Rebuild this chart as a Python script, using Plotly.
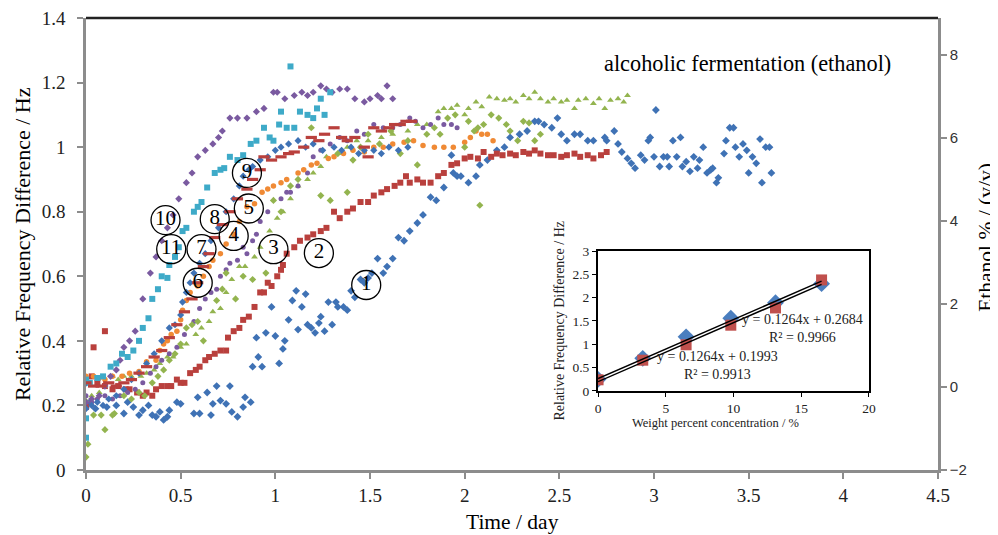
import plotly.graph_objects as go

# ---------------- data ----------------
s1 = [(0,0.27),(0,0.195),(0.02,0.21),(0.05,0.19),(0.11,0.195),(0.16,0.20),(0.20,0.175),(0.22,0.21),(0.25,0.195),(0.28,0.17),
      (0.30,0.185),(0.33,0.20),(0.35,0.17),(0.37,0.165),(0.39,0.18),(0.41,0.155),(0.43,0.165),(0.44,0.185),(0.48,0.21),
      (0.50,0.205),(0.57,0.175),(0.59,0.225),(0.60,0.175),(0.64,0.24),(0.66,0.17),(0.67,0.205),(0.69,0.26),(0.71,0.215),
      (0.74,0.205),(0.76,0.26),(0.77,0.18),(0.80,0.165),(0.83,0.195),(0.84,0.225),(0.87,0.21),(0.88,0.32),(0.90,0.41),
      (0.91,0.35),(0.93,0.32),(0.95,0.425),(0.98,0.505),(1.00,0.415),(1.02,0.33),(1.04,0.375),(1.05,0.40),(1.07,0.465),
      (1.09,0.525),(1.11,0.555),(1.12,0.435),(1.14,0.505),(1.16,0.545),(1.17,0.45),(1.19,0.44),(1.21,0.425),(1.23,0.455),
      (1.24,0.475),(1.26,0.43),(1.28,0.52),(1.30,0.45),(1.32,0.52),(1.33,0.505),(1.36,0.505),(1.38,0.495),(1.40,0.555),
      (1.42,0.535),(1.45,0.59),(1.47,0.58),(1.49,0.595),(1.51,0.61),(1.54,0.655),(1.57,0.61),(1.59,0.63),(1.62,0.655),
      (1.65,0.72),(1.68,0.71),(1.71,0.74),(1.75,0.765),(1.78,0.79),(1.82,0.845),(1.85,0.835),(1.89,0.875),(1.93,0.975),
      (1.94,0.92),(1.96,0.91),(1.98,0.91),(2.02,0.89),(2.06,0.91),(2.08,0.945),(2.12,0.96),(2.17,0.99),(2.21,1.0),
      (2.24,1.03),(2.29,1.04),(2.33,1.05),(2.37,1.08),(2.39,1.08),(2.42,1.07),(2.46,1.06),(2.49,1.09),(2.51,1.04),
      (2.54,1.02),(2.58,1.04),(2.61,1.04),(2.65,1.02),(2.68,1.02),(2.74,1.03),(2.75,1.02),(2.79,1.05),(2.81,1.01),
      (2.83,0.985),(2.86,0.965),(2.88,0.95),(2.90,0.935),(2.93,0.975),(2.95,0.96),(2.97,1.02),(2.98,1.03),(3.00,0.97),
      (3.01,1.115),(3.03,0.94),(3.05,0.97),(3.07,0.97),(3.08,0.94),(3.10,1.02),(3.12,0.97),(3.14,1.03),(3.15,0.94),
      (3.17,0.955),(3.19,0.925),(3.21,0.97),(3.23,0.935),(3.24,0.96),(3.26,1.0),(3.28,0.92),(3.30,0.93),(3.31,0.935),
      (3.33,0.89),(3.34,0.905),(3.37,0.98),(3.38,1.02),(3.40,1.06),(3.42,1.06),(3.43,1.0),(3.45,0.97),(3.47,1.01),
      (3.49,0.99),(3.50,0.92),(3.52,0.97),(3.54,0.95),(3.56,1.025),(3.57,0.89),(3.59,1.0),(3.61,1.0),(3.62,0.92)]

s2 = [(0.0,0.195),(0.03,0.29),(0.04,0.38),(0.06,0.27),(0.10,0.26),(0.10,0.43),(0.14,0.25),(0.17,0.26),(0.21,0.25),
      (0.23,0.25),(0.27,0.24),(0.30,0.23),(0.32,0.24),(0.35,0.23),(0.37,0.25),(0.40,0.26),(0.43,0.26),(0.45,0.26),
      (0.48,0.28),(0.50,0.27),(0.52,0.27),(0.55,0.30),(0.58,0.31),(0.60,0.32),(0.63,0.34),(0.65,0.35),(0.68,0.36),
      (0.71,0.37),(0.74,0.37),(0.75,0.41),(0.78,0.43),(0.81,0.44),(0.83,0.465),(0.86,0.475),(0.89,0.505),(0.92,0.55),
      (0.94,0.55),(0.96,0.58),(0.98,0.57),(1.01,0.60),(1.03,0.62),(1.04,0.635),(1.06,0.67),(1.10,0.69),(1.13,0.71),
      (1.17,0.72),(1.20,0.73),(1.24,0.74),(1.27,0.75),(1.31,0.80),(1.34,0.78),(1.38,0.80),(1.41,0.81),(1.45,0.83),
      (1.49,0.83),(1.52,0.85),(1.56,0.86),(1.59,0.87),(1.63,0.88),(1.66,0.89),(1.69,0.91),(1.71,0.89),(1.75,0.90),
      (1.78,0.89),(1.82,0.89),(1.86,0.91),(1.89,0.92),(1.93,0.945),(1.96,0.95),(2.00,0.965),(2.03,0.97),(2.07,0.965),
      (2.10,0.985),(2.14,0.97),(2.17,0.98),(2.20,0.975),(2.24,0.98),(2.27,0.975),(2.31,0.985),(2.34,0.98),(2.37,0.99),
      (2.40,0.98),(2.44,0.975),(2.47,0.975),(2.51,0.97),(2.54,0.975),(2.58,0.98),(2.61,0.97),(2.65,0.975),(2.68,0.965),
      (2.72,0.975),(2.75,0.985)]

s3 = [(0.0,0.215),(0.03,0.23),(0.07,0.24),(0.10,0.26),(0.14,0.29),(0.17,0.28),(0.20,0.29),(0.24,0.29),(0.29,0.29),
      (0.32,0.30),(0.36,0.31),(0.39,0.33),(0.43,0.35),(0.46,0.35),(0.50,0.38),(0.53,0.39),(0.58,0.42),(0.61,0.44),
      (0.65,0.46),(0.67,0.49),(0.71,0.50),(0.74,0.55),(0.77,0.59),(0.81,0.63),(0.84,0.63),(0.89,0.66),(0.92,0.69),
      (0.97,0.74),(1.01,0.78),(1.04,0.80),(1.08,0.84),(1.12,0.88),(1.17,0.90),(1.20,0.92),(1.24,0.94),(1.27,0.97),
      (1.33,0.98),(1.38,1.0),(1.43,1.02),(1.49,1.02),(1.56,1.03),(1.62,1.04),(1.70,1.05),(1.75,1.07),(1.80,1.07),
      (1.86,1.11),(1.89,1.12),(1.93,1.12),(1.96,1.13),(2.00,1.10),(2.02,1.12),(2.06,1.14),(2.09,1.125),(2.13,1.155),
      (2.17,1.15),(2.21,1.145),(2.24,1.15),(2.27,1.14),(2.31,1.16),(2.34,1.15),(2.37,1.17),(2.40,1.15),(2.44,1.14),
      (2.47,1.15),(2.51,1.14),(2.54,1.145),(2.58,1.12),(2.60,1.145),(2.64,1.15),(2.68,1.135),(2.71,1.15),(2.74,1.12),
      (2.77,1.145),(2.81,1.15),(2.84,1.14),(2.86,1.16)]

s4 = [(0.0,0.23),(0.03,0.21),(0.06,0.22),(0.10,0.23),(0.14,0.22),(0.18,0.23),(0.22,0.24),(0.26,0.25),(0.30,0.27),
      (0.34,0.30),(0.37,0.32),(0.40,0.34),(0.44,0.36),(0.48,0.38),(0.52,0.42),(0.57,0.46),(0.60,0.50),(0.63,0.53),
      (0.66,0.55),(0.69,0.56),(0.71,0.60),(0.74,0.62),(0.76,0.64),(0.80,0.65),(0.83,0.69),(0.85,0.67),(0.88,0.71),
      (0.90,0.73),(0.92,0.77),(0.96,0.80),(1.03,0.84),(1.06,0.86),(1.08,0.86),(1.12,0.88),(1.17,0.92),(1.20,0.97),
      (1.24,0.99),(1.29,1.01),(1.34,1.03),(1.38,1.02),(1.43,1.05),(1.47,1.04),(1.52,1.07),(1.57,1.06),(1.62,1.06),
      (1.66,1.07),(1.71,1.09),(1.74,1.08),(1.78,1.06),(1.82,1.07),(1.86,1.09),(1.89,1.07),(1.93,1.07),(1.96,1.06)]

s6 = [(0.0,0.29),(0.02,0.27),(0.04,0.29),(0.07,0.285),(0.10,0.28),(0.14,0.29),(0.19,0.29),(0.23,0.30),(0.28,0.305),
      (0.32,0.335),(0.37,0.34),(0.39,0.37),(0.41,0.39),(0.43,0.40),(0.45,0.42),(0.48,0.43),(0.50,0.465),(0.51,0.495),
      (0.53,0.525),(0.55,0.55),(0.59,0.57),(0.62,0.60),(0.65,0.63),(0.67,0.65),(0.71,0.67),(0.74,0.70),(0.78,0.73),
      (0.81,0.77),(0.85,0.815),(0.89,0.825),(0.93,0.86),(0.96,0.87),(0.99,0.88),(1.03,0.89),(1.06,0.90),(1.12,0.92),
      (1.15,0.93),(1.19,0.945),(1.22,0.95),(1.28,0.965),(1.31,0.97),(1.36,0.98),(1.41,0.99),(1.47,0.985),(1.52,1.0),
      (1.57,1.0),(1.62,1.01),(1.68,1.015),(1.73,1.02),(1.78,1.005),(1.84,1.0),(1.89,1.0),(1.94,1.0),(2.00,1.015),
      (2.03,1.03),(2.06,1.05),(2.09,1.04),(2.12,1.04),(2.15,1.02)]

s7 = [(0.0,0.19),(0.03,0.20),(0.06,0.21),(0.09,0.20),(0.12,0.22),(0.16,0.23),(0.20,0.25),(0.24,0.28),(0.28,0.30),
      (0.32,0.33),(0.36,0.36),(0.40,0.40),(0.44,0.44),(0.47,0.45),(0.50,0.48),(0.51,0.52),(0.53,0.55),(0.55,0.58),
      (0.57,0.61),(0.60,0.64),(0.63,0.67),(0.66,0.71),(0.70,0.75),(0.74,0.80),(0.78,0.84),(0.81,0.88),(0.83,0.91),
      (0.86,0.93),(0.88,0.94),(0.92,0.96),(0.96,0.97),(1.00,0.99),(1.03,1.00),(1.07,1.01),(1.12,1.02),(1.16,1.00),
      (1.20,1.01),(1.25,0.99),(1.31,1.00),(1.35,0.99),(1.40,1.00),(1.44,0.98),(1.47,0.99),(1.52,0.99),(1.56,0.98),
      (1.60,1.00),(1.65,0.99),(1.70,1.00)]

s8 = [(0.0,0.27),(0.04,0.26),(0.08,0.26),(0.12,0.27),(0.16,0.26),(0.20,0.27),(0.24,0.28),(0.28,0.30),(0.32,0.32),
      (0.36,0.35),(0.40,0.37),(0.44,0.41),(0.48,0.45),(0.52,0.49),(0.56,0.53),(0.59,0.58),(0.62,0.63),(0.65,0.67),
      (0.68,0.72),(0.72,0.76),(0.76,0.80),(0.80,0.84),(0.85,0.87),(0.88,0.90),(0.92,0.93),(0.94,0.97),(0.98,0.96),
      (1.03,0.97),(1.07,0.98),(1.10,0.985),(1.15,1.0),(1.19,1.03),(1.23,1.02),(1.26,1.04),(1.31,1.06),(1.35,1.03),
      (1.38,1.02),(1.42,1.03),(1.47,1.0),(1.49,0.97),(1.52,1.06),(1.56,1.05),(1.60,1.06),(1.63,1.07),(1.66,1.07),
      (1.69,1.08),(1.72,1.08)]

s9 = [(0.0,0.04),(0.01,0.08),(0.04,0.17),(0.08,0.17),(0.10,0.125),(0.14,0.17),(0.15,0.175),(0.20,0.23),(0.24,0.22),
      (0.28,0.24),(0.31,0.23),(0.35,0.27),(0.38,0.29),(0.41,0.31),(0.44,0.34),(0.47,0.36),(0.50,0.39),(0.53,0.44),
      (0.56,0.45),(0.59,0.46),(0.62,0.40),(0.69,0.525),(0.72,0.56),(0.74,0.61),(0.79,0.53),(0.83,0.60),(0.88,0.59),
      (0.95,0.61),(0.99,0.835),(1.03,0.80),(1.08,0.88),(1.12,0.90),(1.19,1.06),(1.24,0.85),(1.29,0.835),(1.33,0.98),
      (1.38,0.86),(1.41,0.96),(1.45,1.0),(1.49,1.04),(1.55,1.01),(1.61,1.05),(1.66,0.98),(1.70,1.02),(1.75,0.945),
      (1.80,1.04),(1.84,1.06),(1.87,1.04),(1.91,1.09),(1.95,1.10),(2.00,1.0),(2.02,1.08),(2.05,1.05),(2.07,1.06),
      (2.08,0.82),(2.10,1.07),(2.14,1.10),(2.18,1.09),(2.22,1.07),(2.24,1.05),(2.28,1.02),(2.31,1.08),(2.34,1.075),
      (2.37,1.02),(2.40,1.04)]

s10 = [(0.0,0.21),(0.03,0.22),(0.07,0.23),(0.10,0.26),(0.13,0.29),(0.16,0.31),(0.18,0.34),(0.20,0.38),(0.23,0.40),
       (0.26,0.43),(0.30,0.53),(0.34,0.61),(0.37,0.66),(0.40,0.71),(0.43,0.75),(0.46,0.79),(0.49,0.84),(0.53,0.89),
       (0.56,0.92),(0.59,0.97),(0.63,0.99),(0.67,1.01),(0.70,1.03),(0.72,1.05),(0.76,1.09),(0.80,1.09),(0.85,1.09),
       (0.90,1.11),(0.94,1.12),(0.99,1.17),(1.01,1.17),(1.05,1.15),(1.10,1.16),(1.14,1.17),(1.17,1.16),(1.20,1.17),
       (1.24,1.19),(1.27,1.18),(1.30,1.17),(1.34,1.18),(1.38,1.18),(1.42,1.15),(1.47,1.14),(1.50,1.15),(1.54,1.16),
       (1.56,1.15),(1.59,1.19),(1.62,1.15)]

s11 = [(0.0,0.10),(0.0,0.16),(0.0,0.28),(0.02,0.27),(0.06,0.285),(0.09,0.29),(0.13,0.32),(0.16,0.33),(0.19,0.36),
       (0.22,0.35),(0.25,0.37),(0.28,0.40),(0.30,0.44),(0.33,0.47),(0.35,0.53),(0.38,0.56),(0.40,0.60),(0.43,0.595),
       (0.44,0.635),(0.47,0.66),(0.49,0.69),(0.51,0.74),(0.53,0.75),(0.57,0.80),(0.59,0.815),(0.61,0.83),(0.64,0.875),
       (0.68,0.92),(0.71,0.93),(0.73,0.935),(0.76,0.97),(0.80,0.96),(0.83,0.975),(0.87,1.01),(0.90,1.02),(0.94,1.06),
       (0.97,1.03),(0.99,1.02),(1.02,1.07),(1.03,1.11),(1.06,1.06),(1.08,1.25),(1.10,1.06),(1.13,1.11),(1.17,1.10),
       (1.20,1.09),(1.22,1.12),(1.24,1.15),(1.26,1.10),(1.29,1.17)]

label_text = ["1", "2", "3", "4", "5", "6", "7", "8", "9", "10", "11"]
label_x = [1.48, 1.23, 0.99, 0.78, 0.86, 0.59, 0.61, 0.68, 0.85, 0.42, 0.45]
label_y = [0.573, 0.672, 0.684, 0.725, 0.81, 0.58, 0.684, 0.777, 0.92, 0.774, 0.684]

x_ticks = [0, 0.5, 1, 1.5, 2, 2.5, 3, 3.5, 4, 4.5]
x_ticktext = ["0", "0.5", "1", "1.5", "2", "2.5", "3", "3.5", "4", "4.5"]
y2_ticks = [-2, 0, 2, 4, 6, 8]

# inset calibration
inset_conc = [0, 3.3, 6.5, 9.8, 13.1, 16.5]
inset_blue = [0.25, 0.70, 1.16, 1.56, 1.89, 2.30]
inset_red = [0.24, 0.66, 0.99, 1.41, 1.78, 2.38]
fit_slope = [0.1264, 0.1264]
fit_intercept = [0.2684, 0.1993]
fit_range = [0, 16.5]

# ---------------- styles ----------------
SERIF = "Liberation Serif, Times New Roman, serif"
SANS = "Liberation Sans, Arial, sans-serif"
BLUE = "#3f72b5"
RED = "#b9403d"
GREEN = "#93b44f"
PURPLE = "#7a5aa0"
CYAN = "#3eaac8"
ORANGE = "#f08a35"

series = [
    (s1, BLUE, "diamond", 6, 0),
    (s2, RED, "square", 6, 0),
    (s3, GREEN, "triangle-up", 6, 0),
    (s4, PURPLE, "circle", 5, 0),
    (s6, ORANGE, "circle", 5.5, 0),
    (s9, GREEN, "diamond", 5.5, 0),
    (s10, PURPLE, "diamond", 5.5, 0),
    (s11, CYAN, "square", 6, 0),
    (s7, BLUE, "diamond", 5.5, 0),
    (s8, RED, "line-ew", 8, 3.2),
]

fig = go.Figure()
for pts, col, sym, size, lw in series:
    xs = [p[0] for p in pts]
    ys = [p[1] for p in pts]
    if sym == "line-ew":
        marker = dict(symbol=sym, size=size, color=col, line=dict(color=col, width=lw))
    else:
        marker = dict(symbol=sym, size=size, color=col, line=dict(width=0))
    fig.add_trace(go.Scatter(x=xs, y=ys, mode="markers", marker=marker,
                             showlegend=False, hoverinfo="skip", xaxis="x", yaxis="y"))

# circled sample numbers
fig.add_trace(go.Scatter(x=label_x, y=label_y, mode="markers+text", text=label_text,
                         textposition="middle center",
                         textfont=dict(family=SERIF, size=21, color="black"),
                         marker=dict(symbol="circle-open", size=29, color="black",
                                     line=dict(width=1.3)),
                         showlegend=False, hoverinfo="skip", xaxis="x", yaxis="y"))

# right axis (ethanol %) - empty trace to create the axis
fig.add_trace(go.Scatter(x=[None], y=[None], mode="markers", showlegend=False,
                         hoverinfo="skip", xaxis="x", yaxis="y2"))

# inset: calibration
fig.add_trace(go.Scatter(x=inset_conc, y=inset_blue, mode="markers",
                         marker=dict(symbol="diamond", size=13, color="#4a7ebf"),
                         showlegend=False, hoverinfo="skip", xaxis="x3", yaxis="y3"))
fig.add_trace(go.Scatter(x=inset_conc, y=inset_red, mode="markers",
                         marker=dict(symbol="square", size=11, color="#c0504d"),
                         showlegend=False, hoverinfo="skip", xaxis="x3", yaxis="y3"))
for m, b in zip(fit_slope, fit_intercept):
    fig.add_trace(go.Scatter(x=fit_range, y=[m * fit_range[0] + b, m * fit_range[1] + b],
                             mode="lines", line=dict(color="black", width=1.5),
                             showlegend=False, hoverinfo="skip", xaxis="x3", yaxis="y3"))

AX_GRAY = "#8c8c8c"
# the page body adds an 8px offset, so the figure is 8px smaller and margins shifted
fig.update_layout(
    width=990, height=527,
    margin=dict(l=78, r=60, t=10, b=65, autoexpand=False),
    paper_bgcolor="white", plot_bgcolor="white",
    xaxis=dict(domain=[0, 1], range=[0, 4.5], tickvals=x_ticks, ticktext=x_ticktext,
               showline=True, linecolor=AX_GRAY, linewidth=2.5, ticks="outside",
               ticklen=6, tickcolor=AX_GRAY, tickwidth=1.5, showgrid=False, zeroline=False,
               ticklabeloverflow="allow",
               tickfont=dict(family=SERIF, size=19, color="#222"), anchor="y"),
    yaxis=dict(domain=[0, 1], range=[0, 1.4], dtick=0.2, showline=True, linecolor=AX_GRAY,
               linewidth=2.5, ticks="outside", ticklen=6, tickcolor=AX_GRAY, tickwidth=1.5,
               showgrid=False, zeroline=False, ticklabelstandoff=8, ticklabeloverflow="allow",
               tickfont=dict(family=SERIF, size=19, color="#222"), anchor="x"),
    yaxis2=dict(overlaying="y", side="right", range=[-2, 8.89], tickvals=y2_ticks,
                showline=True, linecolor=AX_GRAY, linewidth=2.5, ticks="outside", ticklen=6,
                tickcolor=AX_GRAY, tickwidth=1.5, showgrid=False, zeroline=False,
                ticklabeloverflow="allow",
                tickfont=dict(family=SANS, size=15, color="#333"), anchor="x"),
    xaxis3=dict(domain=[0.601, 0.919], range=[0, 20], dtick=5, anchor="y3",
                showline=True, mirror=True, linecolor="black", linewidth=2,
                ticks="outside", ticklen=4, tickcolor="black", showgrid=False, zeroline=False,
                tickfont=dict(family=SERIF, size=13.5, color="#222")),
    yaxis3=dict(domain=[0.1748, 0.4845], range=[0, 3], dtick=0.5, anchor="x3",
                showline=True, mirror=True, linecolor="black", linewidth=2,
                ticks="outside", ticklen=4, tickcolor="black", showgrid=False, zeroline=False,
                tickfont=dict(family=SERIF, size=13.5, color="#222")),
    shapes=[dict(type="line", xref="paper", yref="paper", x0=0, x1=1, y0=1, y1=1,
                 line=dict(color="#222", width=2.5))],
    annotations=[
        dict(text="alcoholic fermentation (ethanol)", xref="paper", yref="paper",
             x=0.947, y=0.900, xanchor="right", yanchor="middle", showarrow=False,
             font=dict(family=SERIF, size=22.3, color="black")),
        dict(text="Relative Frequency Difference / Hz", xref="paper", yref="paper",
             x=-0.075, y=0.5, textangle=-90, showarrow=False, xanchor="center", yanchor="middle",
             font=dict(family=SERIF, size=22, color="black")),
        dict(text="Time / day", xref="paper", yref="paper", x=0.5, y=-0.115,
             showarrow=False, xanchor="center", yanchor="middle",
             font=dict(family=SERIF, size=21.5, color="black")),
        dict(text="Ethanol % / (v/v)", xref="paper", yref="paper", x=1.057, y=0.515,
             textangle=-90, showarrow=False, xanchor="center", yanchor="middle",
             font=dict(family=SERIF, size=21.5, color="black")),
        dict(text="Relative Frequency Difference / Hz", xref="paper", yref="paper",
             x=0.556, y=0.33, textangle=-90, showarrow=False, xanchor="center", yanchor="middle",
             font=dict(family=SERIF, size=14, color="#222")),
        dict(text="Weight percent concentration / %", xref="paper", yref="paper",
             x=0.739, y=0.104, showarrow=False, xanchor="center", yanchor="middle",
             font=dict(family=SERIF, size=12.5, color="#222")),
        dict(text="y = 0.1264x + 0.2684<br>R² = 0.9966", xref="x3", yref="y3",
             x=15.1, y=1.33, showarrow=False, xanchor="center", yanchor="middle",
             font=dict(family=SERIF, size=14, color="#222")),
        dict(text="y = 0.1264x + 0.1993<br>R² = 0.9913", xref="x3", yref="y3",
             x=8.8, y=0.54, showarrow=False, xanchor="center", yanchor="middle",
             font=dict(family=SERIF, size=14, color="#222")),
    ],
)

fig.write_html("out.html")
